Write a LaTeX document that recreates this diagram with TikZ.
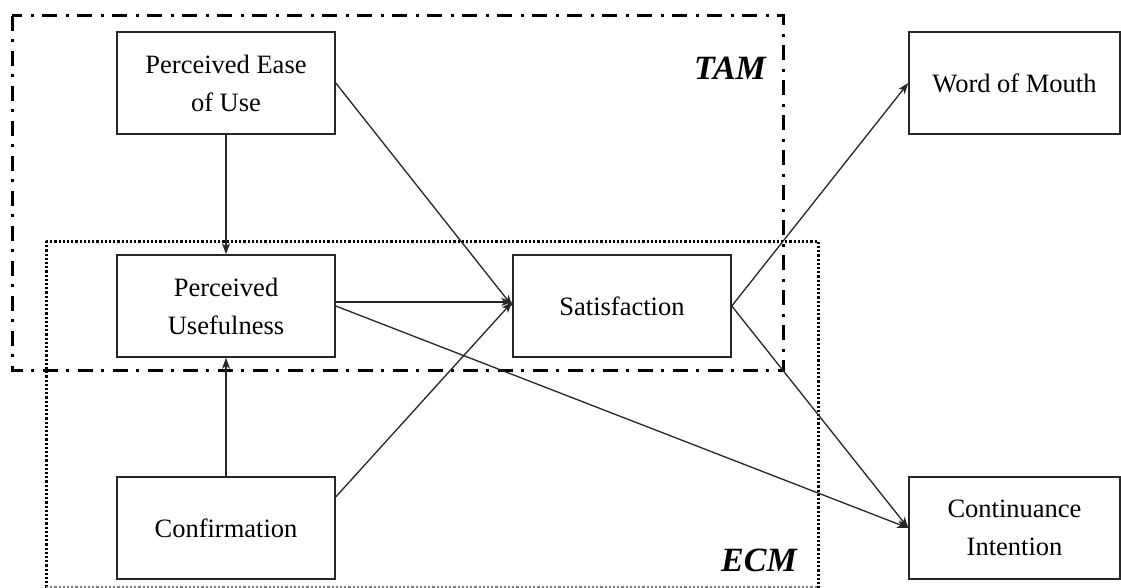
\documentclass[tikz,border=0pt]{standalone}
\usepackage{fontspec}
\setmainfont{Liberation Serif}
\usetikzlibrary{arrows.meta,calc}
\begin{document}
\begin{tikzpicture}[x=1pt,y=-1pt,
  box/.style={draw=black!85, line width=1.5pt, rectangle, minimum width=218pt, minimum height=102pt,
    align=center, inner sep=0pt, font=\fontsize{26.5}{38}\selectfont},
  arr/.style={draw=black!85, line width=1.3pt, -{Stealth[length=11pt,width=8pt,inset=3pt]}},
  tamframe/.style={draw=black, line width=3pt, dash pattern=on 15pt off 8pt on 3pt off 9pt},
  ecmframe/.style={draw=black, line width=3pt, dash pattern=on 2.2pt off 2pt},
  lbl/.style={font=\fontsize{34}{40}\selectfont\bfseries\itshape, inner sep=0pt}]
\useasboundingbox (0,0) rectangle (1121,588);
\fill[white] (0,0) rectangle (1121,588);
% frames
\draw[tamframe] (12,16) rectangle (783,370);
\draw[ecmframe] (46,241) -- (818,241) -- (818,590);
\draw[ecmframe] (46,241) -- (46,590);
\draw[ecmframe, draw=black!50, line width=2pt] (46,587) -- (818,587);
\node[lbl] (tam) at (730,68) {TAM};
\node[lbl] (ecm) at (759,560) {ECM};
% boxes
\node[box] (peou) at (226,83) {Perceived Ease\\of Use};
\node[box] (pu) at (226,306) {Perceived\\Usefulness};
\node[box] (sat) at (622,306) {Satisfaction};
\node[box] (conf) at (226,528) {Confirmation};
\node[box, minimum width=211pt] (wom) at (1014.5,83) {Word of Mouth};
\node[box, minimum width=211pt] (ci) at (1014.5,528) {Continuance\\Intention};
% arrows
\draw[arr] (peou.south) -- (pu.north);
\draw[arr] (conf.north) -- (pu.south);
\draw[arr] (peou.east) -- (sat.west);
\draw[arr] ($(pu.east)+(0,-4)$) -- ($(sat.west)+(0,-4)$);
\draw[arr] ($(conf.north east)!0.2!(conf.south east)$) -- ($(sat.west)+(0,-4)$);
\draw[arr] (pu.east) -- (ci.west);
\draw[arr] (sat.east) -- (wom.west);
\draw[arr] (sat.east) -- (ci.west);
\end{tikzpicture}
\end{document}
